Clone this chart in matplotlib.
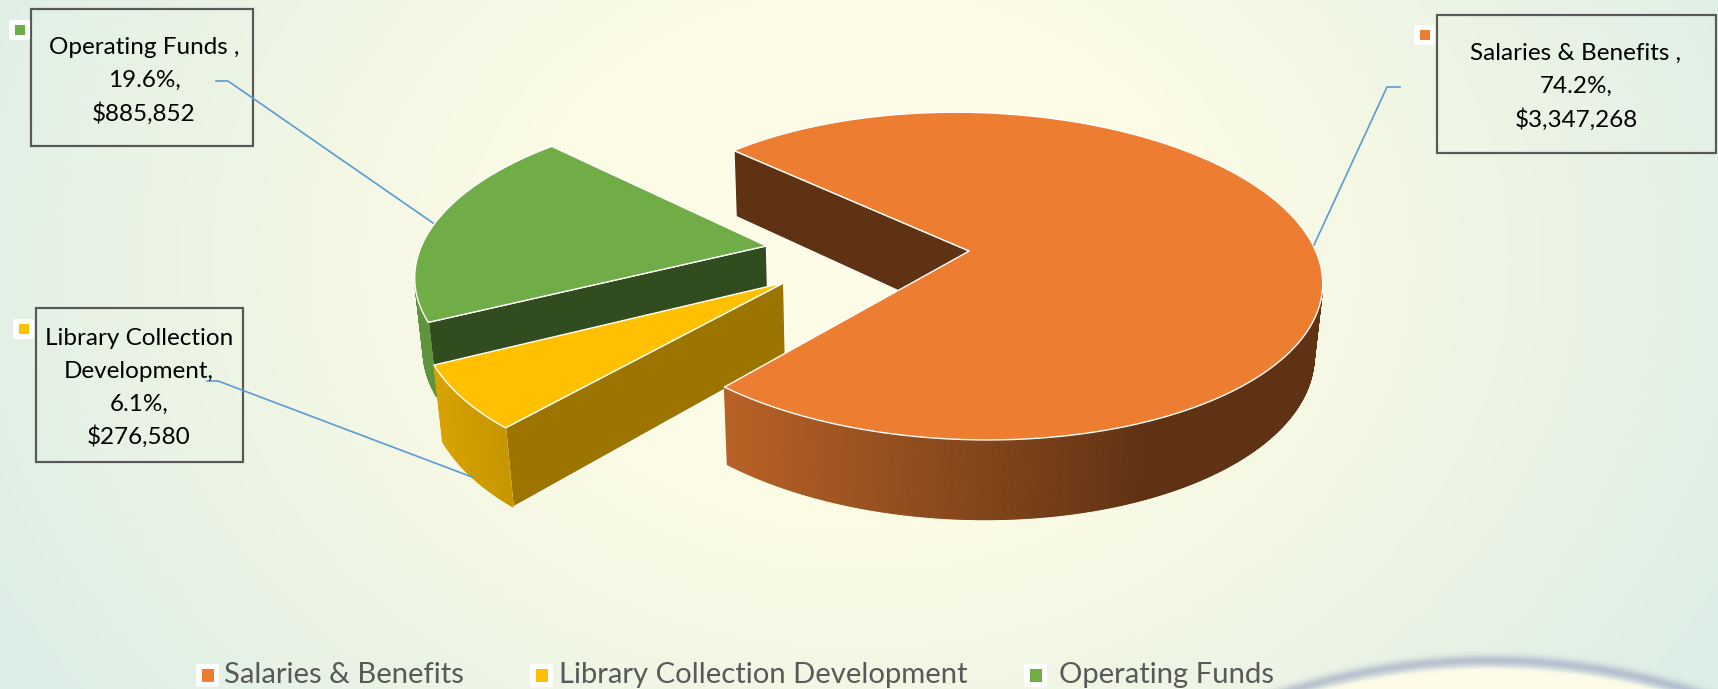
import numpy as np
import matplotlib
matplotlib.use("Agg")
import matplotlib.pyplot as plt
from matplotlib.patches import Polygon, Rectangle, FancyBboxPatch
from matplotlib.collections import PolyCollection
from matplotlib.colors import to_rgb

plt.rcParams['font.family'] = ['Lato', 'DejaVu Sans']

# data
categories = ["Salaries & Benefits", "Library Collection Development", "Operating Funds"]
amounts = [3347268, 276580, 885852]
percents = ["74.2%", "6.1%", "19.6%"]
callouts = [["Salaries & Benefits ,"],
            ["Library Collection", "Development,"],
            ["Operating Funds ,"]]

# styles
colors = ["#ED7D31", "#FFC000", "#70AD47"]
cut_shade = [0.40, 0.61, 0.44]
W, H = 1718, 689

# 3d pie camera
first_angle = 136.0
explode = 0.295
height = 0.2326
tilt_s, tilt_c = 0.458, 0.889
D, f = 5.8, 2034.0
fx = 2014.0
x0, y0 = 867.0, 253.0


def project(X, Y, Z):
    d = D + tilt_c * Y - tilt_s * Z
    return x0 + fx * X / d, y0 - f * (tilt_s * Y + tilt_c * Z) / d


def facing(nx, ny, px, py):
    return nx * (0 - px) + ny * (-D * tilt_c - py) > 0


def rim_shade(th):
    return np.interp(np.cos(th), [-0.9, -0.63, 0.41], [0.85, 0.77, 0.40])


def background():
    yy, xx = np.mgrid[0:H, 0:W]
    t = np.sqrt(((xx - 860) / 1000.0) ** 2 + ((yy - 260) / 780.0) ** 2)
    t = np.clip(t, 0, 1.15)
    stops = [to_rgb(c) for c in ("#FFFDE8", "#FBFBE6", "#F0F6E4", "#DCEEE7")]
    img = np.zeros((H, W, 3))
    for k in range(3):
        img[:, :, k] = np.interp(t, [0, 0.35, 0.6, 1.0], [s[k] for s in stops])
    # arc at lower right corner
    R = 668.0
    s = np.sqrt((xx - 1490.0) ** 2 + (yy - (665.0 + R)) ** 2) - R
    inner = np.clip(-s / 4.0, 0, 1)[:, :, None]
    img = img * (1 - inner) + np.array(to_rgb("#FFFDE8")) * inner
    ring = (0.62 * np.exp(-((s - 5.0) ** 2) / (2 * 4.0 ** 2)))[:, :, None]
    img = img * (1 - ring) + np.array(to_rgb("#9DA5C2")) * ring
    return img


def draw_slice(ax, a0, sweep, color, z):
    i = colors.index(color)
    base = np.array(to_rgb(color))
    a1 = a0 - sweep
    mid = np.radians(a0 - sweep / 2)
    cx, cy = explode * np.cos(mid), explode * np.sin(mid)
    th = np.radians(np.linspace(a0, a1, max(int(sweep * 4), 40)))
    rx, ry = cx + np.cos(th), cy + np.sin(th)

    # flat cut faces
    for ang, nrm in ((a0, a0 + 90), (a1, a1 - 90)):
        r = np.radians(ang)
        n = np.radians(nrm)
        ex, ey = cx + np.cos(r), cy + np.sin(r)
        if facing(np.cos(n), np.sin(n), (cx + ex) / 2, (cy + ey) / 2):
            pts = [project(cx, cy, 0), project(ex, ey, 0),
                   project(ex, ey, -height), project(cx, cy, -height)]
            ax.add_patch(Polygon(pts, closed=True, fc=base * cut_shade[i], ec="white", lw=0.9, zorder=z))

    # curved outer side
    quads, cols = [], []
    for j in range(len(th) - 1):
        tm = (th[j] + th[j + 1]) / 2
        if not facing(np.cos(tm), np.sin(tm), cx + np.cos(tm), cy + np.sin(tm)):
            continue
        quads.append([project(rx[j], ry[j], 0), project(rx[j + 1], ry[j + 1], 0),
                      project(rx[j + 1], ry[j + 1], -height), project(rx[j], ry[j], -height)])
        cols.append(base * rim_shade(tm))
    if quads:
        ax.add_collection(PolyCollection(quads, facecolors=cols, edgecolors=cols, linewidths=0.8, zorder=z))

    # top face
    tx, ty = project(rx, ry, 0)
    top_pts = [project(cx, cy, 0)] + list(zip(tx, ty))
    ax.add_patch(Polygon(top_pts, closed=True, fc=base, ec="white", lw=1.0, zorder=z, joinstyle="round"))


fig = plt.figure(figsize=(W / 100, H / 100), dpi=100)
ax = fig.add_axes([0, 0, 1, 1])
ax.imshow(background(), extent=(0, W, H, 0), aspect="auto", zorder=0)

sweeps = 360.0 * np.array(amounts) / sum(amounts)
starts = first_angle - np.concatenate(([0], np.cumsum(sweeps)[:-1]))

# back slices first so salaries ends on top
for z, k in enumerate((2, 1, 0)):
    draw_slice(ax, starts[k], sweeps[k], colors[k], 2 + z)

# leader lines
leaders = [[(1400, 87), (1387, 87), (1314, 245)],
           [(207, 381), (218, 381), (472, 477)],
           [(216, 81), (228, 81), (433, 223)]]
# callout boxes: left, top, right, bottom
boxes = [(1437, 15, 1716, 153), (36, 308, 243, 462), (31, 9, 253, 146)]
text_x = [1576, 139, 144]
text_y = [53.5, 338.5, 47.5]
swatches = [(1414, 25), (13, 319), (9, 20)]

for k in range(3):
    l, t, r, b = boxes[k]
    ax.add_patch(Rectangle((l, t), r - l, b - t, fc="none", ec="#595959", lw=1.6, zorder=8))
    lines = callouts[k] + [percents[k] + ",", "${:,}".format(amounts[k])]
    for n, line in enumerate(lines):
        ax.text(text_x[k], text_y[k] + n * 32.8, line, ha="center", va="center",
                fontsize=17.5, color="black", zorder=10)
    xs, ys = zip(*leaders[k])
    ax.plot(xs, ys, color="#5B9BD5", lw=1.2, zorder=9)
    sx, sy = swatches[k]
    ax.add_patch(FancyBboxPatch((sx + 1, sy + 1), 19, 18, boxstyle="round,pad=1,rounding_size=2",
                                fc="white", ec="none", zorder=8))
    ax.add_patch(Rectangle((sx + 6, sy + 5), 10, 10, fc=colors[k], ec="none", zorder=9))

# legend along the bottom
legend_box = [196, 530, 1024]
legend_text = [224, 559, 1059]
for k in range(3):
    ax.add_patch(FancyBboxPatch((legend_box[k] + 1, 665), 21, 21, boxstyle="round,pad=1,rounding_size=2",
                                fc="white", ec="none", zorder=8))
    ax.add_patch(Rectangle((legend_box[k] + 6, 669), 12, 13, fc=colors[k], ec="none", zorder=9))
    ax.text(legend_text[k], 675, categories[k], ha="left", va="center",
            fontsize=21.1, color="#595959", zorder=10)

ax.set_xlim(0, W)
ax.set_ylim(H, 0)
ax.axis("off")
fig.savefig("out.png", dpi=100)
